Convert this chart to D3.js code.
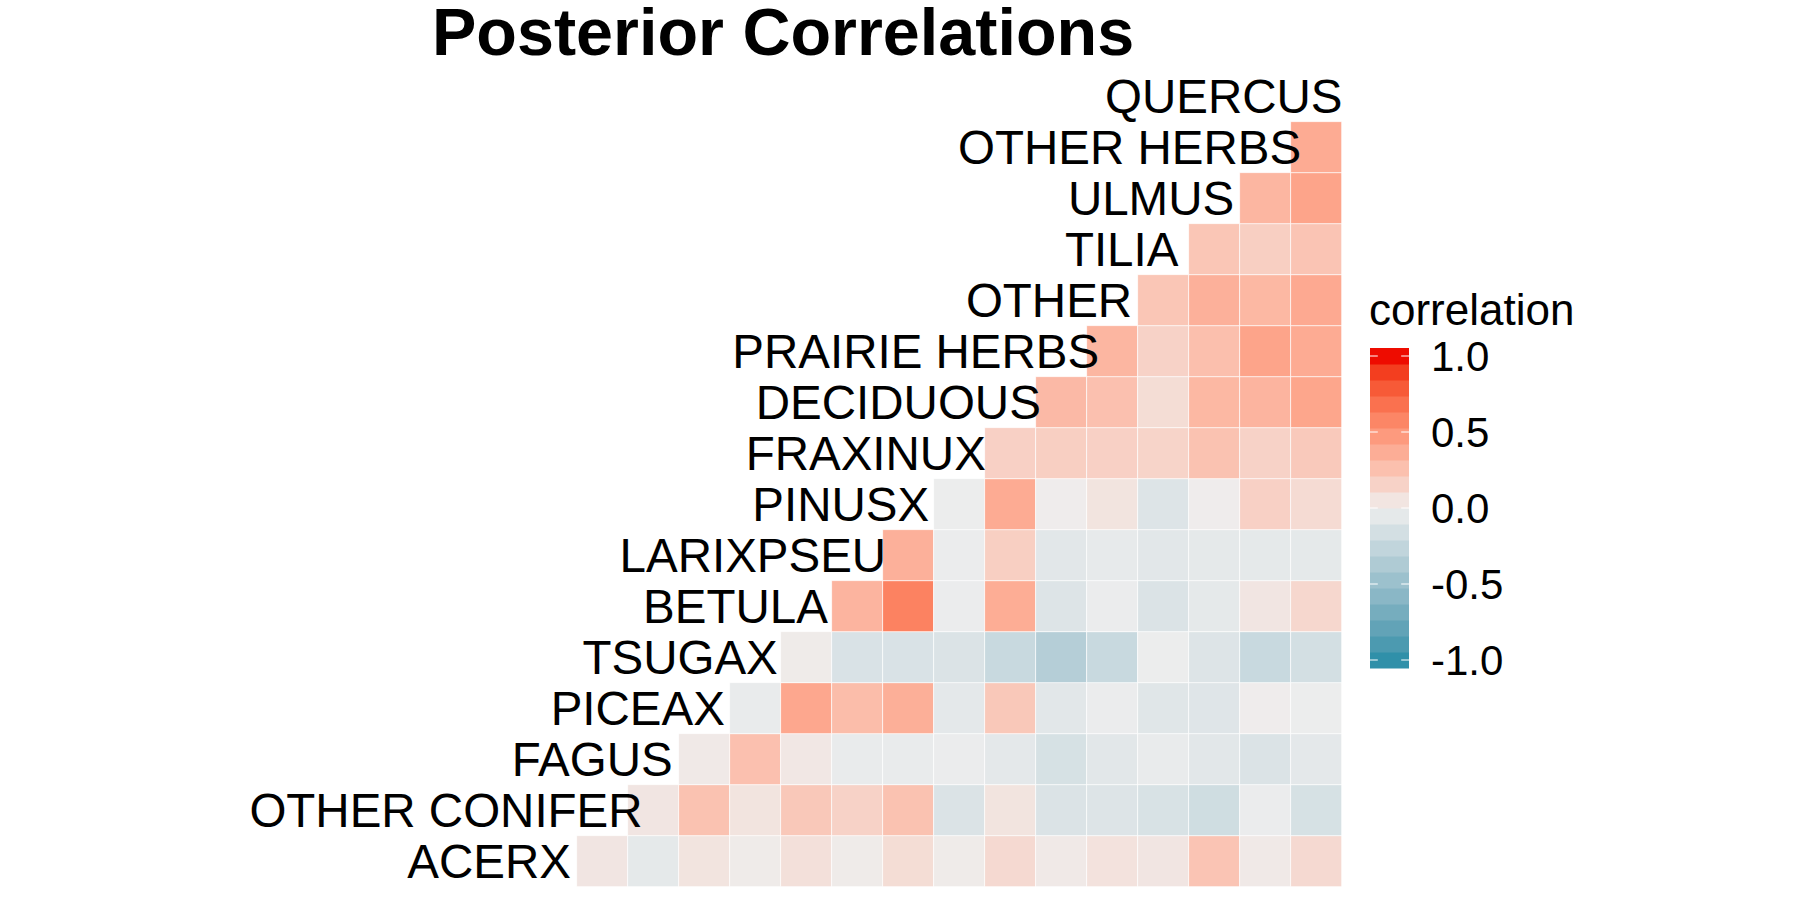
<!DOCTYPE html>
<html>
<head>
<meta charset="utf-8">
<script src="https://cdn.jsdelivr.net/npm/d3@7"></script>
<style>
  html, body { margin: 0; padding: 0; background: #ffffff; }
  svg { display: block; }
  text { font-family: "Liberation Sans", Arial, Helvetica, sans-serif; }
</style>
</head>
<body>
<svg id="chart" width="1800" height="900"></svg>
<script>
// ---------- DATA ----------
const variables = ["ACERX", "OTHER CONIFER", "FAGUS", "PICEAX", "TSUGAX", "BETULA",
  "LARIXPSEU", "PINUSX", "FRAXINUX", "DECIDUOUS", "PRAIRIE HERBS", "OTHER",
  "TILIA", "ULMUS", "OTHER HERBS", "QUERCUS"];

// correlation of each variable with every later variable in the list
const corrACERX        = [0.05, -0.05, 0.06, 0.02, 0.08, 0.02, 0.10, 0.02, 0.12, 0.03, 0.07, 0.05, 0.24, 0.03, 0.12];
const corrOtherConifer = [0.05, 0.25, 0.06, 0.22, 0.16, 0.25, -0.11, 0.06, -0.11, -0.10, -0.13, -0.18, -0.02, -0.14];
const corrFAGUS        = [0.03, 0.26, 0.04, -0.03, -0.03, -0.02, -0.06, -0.14, -0.07, -0.03, -0.07, -0.11, -0.06];
const corrPICEAX       = [-0.03, 0.40, 0.28, 0.36, -0.06, 0.22, -0.07, -0.02, -0.08, -0.09, 0.01, -0.01];
const corrTSUGAX       = [0.02, -0.12, -0.12, -0.11, -0.22, -0.33, -0.22, -0.01, -0.10, -0.22, -0.16];
const corrBETULA       = [0.33, 0.60, -0.02, 0.37, -0.10, -0.02, -0.11, -0.05, 0.05, 0.13];
const corrLARIXPSEU    = [0.35, -0.02, 0.18, -0.07, -0.04, -0.07, -0.05, -0.05, -0.05];
const corrPINUSX       = [-0.01, 0.38, 0.01, 0.06, -0.10, 0.01, 0.17, 0.11];
const corrFRAXINUX     = [0.17, 0.18, 0.17, 0.15, 0.25, 0.16, 0.21];
const corrDECIDUOUS    = [0.30, 0.26, 0.10, 0.31, 0.33, 0.41];
const corrPrairieHerbs = [0.32, 0.16, 0.27, 0.42, 0.38];
const corrOTHER        = [0.23, 0.35, 0.31, 0.39];
const corrTILIA        = [0.23, 0.18, 0.24];
const corrULMUS        = [0.32, 0.42];
const corrOtherHerbs   = [0.38];

const legendTicks = [1.0, 0.5, 0.0, -0.5, -1.0];
const titleText = "Posterior Correlations";
const legendTitle = "correlation";

// ---------- BUILD CELLS ----------
const corrRows = [corrACERX, corrOtherConifer, corrFAGUS, corrPICEAX, corrTSUGAX, corrBETULA,
  corrLARIXPSEU, corrPINUSX, corrFRAXINUX, corrDECIDUOUS, corrPrairieHerbs, corrOTHER,
  corrTILIA, corrULMUS, corrOtherHerbs];
const cells = [];
corrRows.forEach((vals, i) => {
  vals.forEach((v, k) => {
    cells.push({ row: variables[i], col: variables[i + 1 + k], value: v });
  });
});

// ---------- SCALES ----------
const svg = d3.select("#chart");
const x = d3.scaleBand().domain(variables).range([525.7, 1341.7]).padding(0);
const y = d3.scaleBand().domain(variables.slice().reverse()).range([70.7, 886.7]).padding(0);

const color = d3.scaleLinear()
  .domain([-1, 0, 1])
  .range(["#3090A9", "#EEEEEE", "#EE0C00"])
  .interpolate(d3.interpolateLab)
  .clamp(true);

// ---------- TITLE ----------
svg.append("text")
  .attr("x", 432).attr("y", 55)
  .attr("font-size", 66.5).attr("font-weight", "bold")
  .attr("fill", "#000")
  .text(titleText);

// ---------- TILES ----------
svg.append("g").selectAll("rect")
  .data(cells)
  .join("rect")
  .attr("x", d => x(d.col))
  .attr("y", d => y(d.row))
  .attr("width", x.bandwidth())
  .attr("height", y.bandwidth())
  .attr("fill", d => color(d.value))
  .attr("stroke", "#ffffff")
  .attr("stroke-width", 0.8)
  .attr("stroke-opacity", 0.8);

// ---------- DIAGONAL LABELS ----------
const labelSize = 47.5;
const labels = svg.append("g").selectAll("text")
  .data(variables)
  .join("text")
  .attr("font-size", labelSize)
  .attr("fill", "#000")
  .attr("y", d => y(d) + y.bandwidth() / 2 + labelSize * 0.358)
  .text(d => d);
labels.each(function(d) {
  const w = this.getComputedTextLength();
  const cx = x(d) + x.bandwidth() / 2;
  d3.select(this).attr("x", cx - 0.91 * w + 5);
});

// ---------- LEGEND ----------
const nbin = 20;
const barX = 1370, barW = 39, barTop = 348, barH = 320;
const binH = barH / nbin;
const binVals = d3.range(nbin).map(i => -1 + 2 * i / (nbin - 1));
const legend = svg.append("g");

legend.append("text")
  .attr("x", 1369).attr("y", 325)
  .attr("font-size", 44).attr("fill", "#000")
  .text(legendTitle);

legend.selectAll("rect.bin")
  .data(binVals)
  .join("rect")
  .attr("class", "bin")
  .attr("x", barX)
  .attr("y", (d, i) => barTop + barH - (i + 1) * binH)
  .attr("width", barW)
  .attr("height", binH + 0.5)
  .attr("fill", d => color(d));

const ly = d3.scaleLinear().domain([-1, 1])
  .range([barTop + barH - binH / 2, barTop + binH / 2]);

const tickLen = barW / 5;
legendTicks.forEach(t => {
  legend.append("line")
    .attr("x1", barX).attr("x2", barX + tickLen)
    .attr("y1", ly(t)).attr("y2", ly(t))
    .attr("stroke", "#fff").attr("stroke-width", 1);
  legend.append("line")
    .attr("x1", barX + barW - tickLen).attr("x2", barX + barW)
    .attr("y1", ly(t)).attr("y2", ly(t))
    .attr("stroke", "#fff").attr("stroke-width", 1);
});

legend.selectAll("text.tick")
  .data(legendTicks)
  .join("text")
  .attr("class", "tick")
  .attr("x", 1431)
  .attr("y", d => ly(d) + 42 * 0.358)
  .attr("font-size", 42)
  .attr("fill", "#000")
  .text(d => d3.format(".1f")(d).replace("−", "-"));
</script>
</body>
</html>
